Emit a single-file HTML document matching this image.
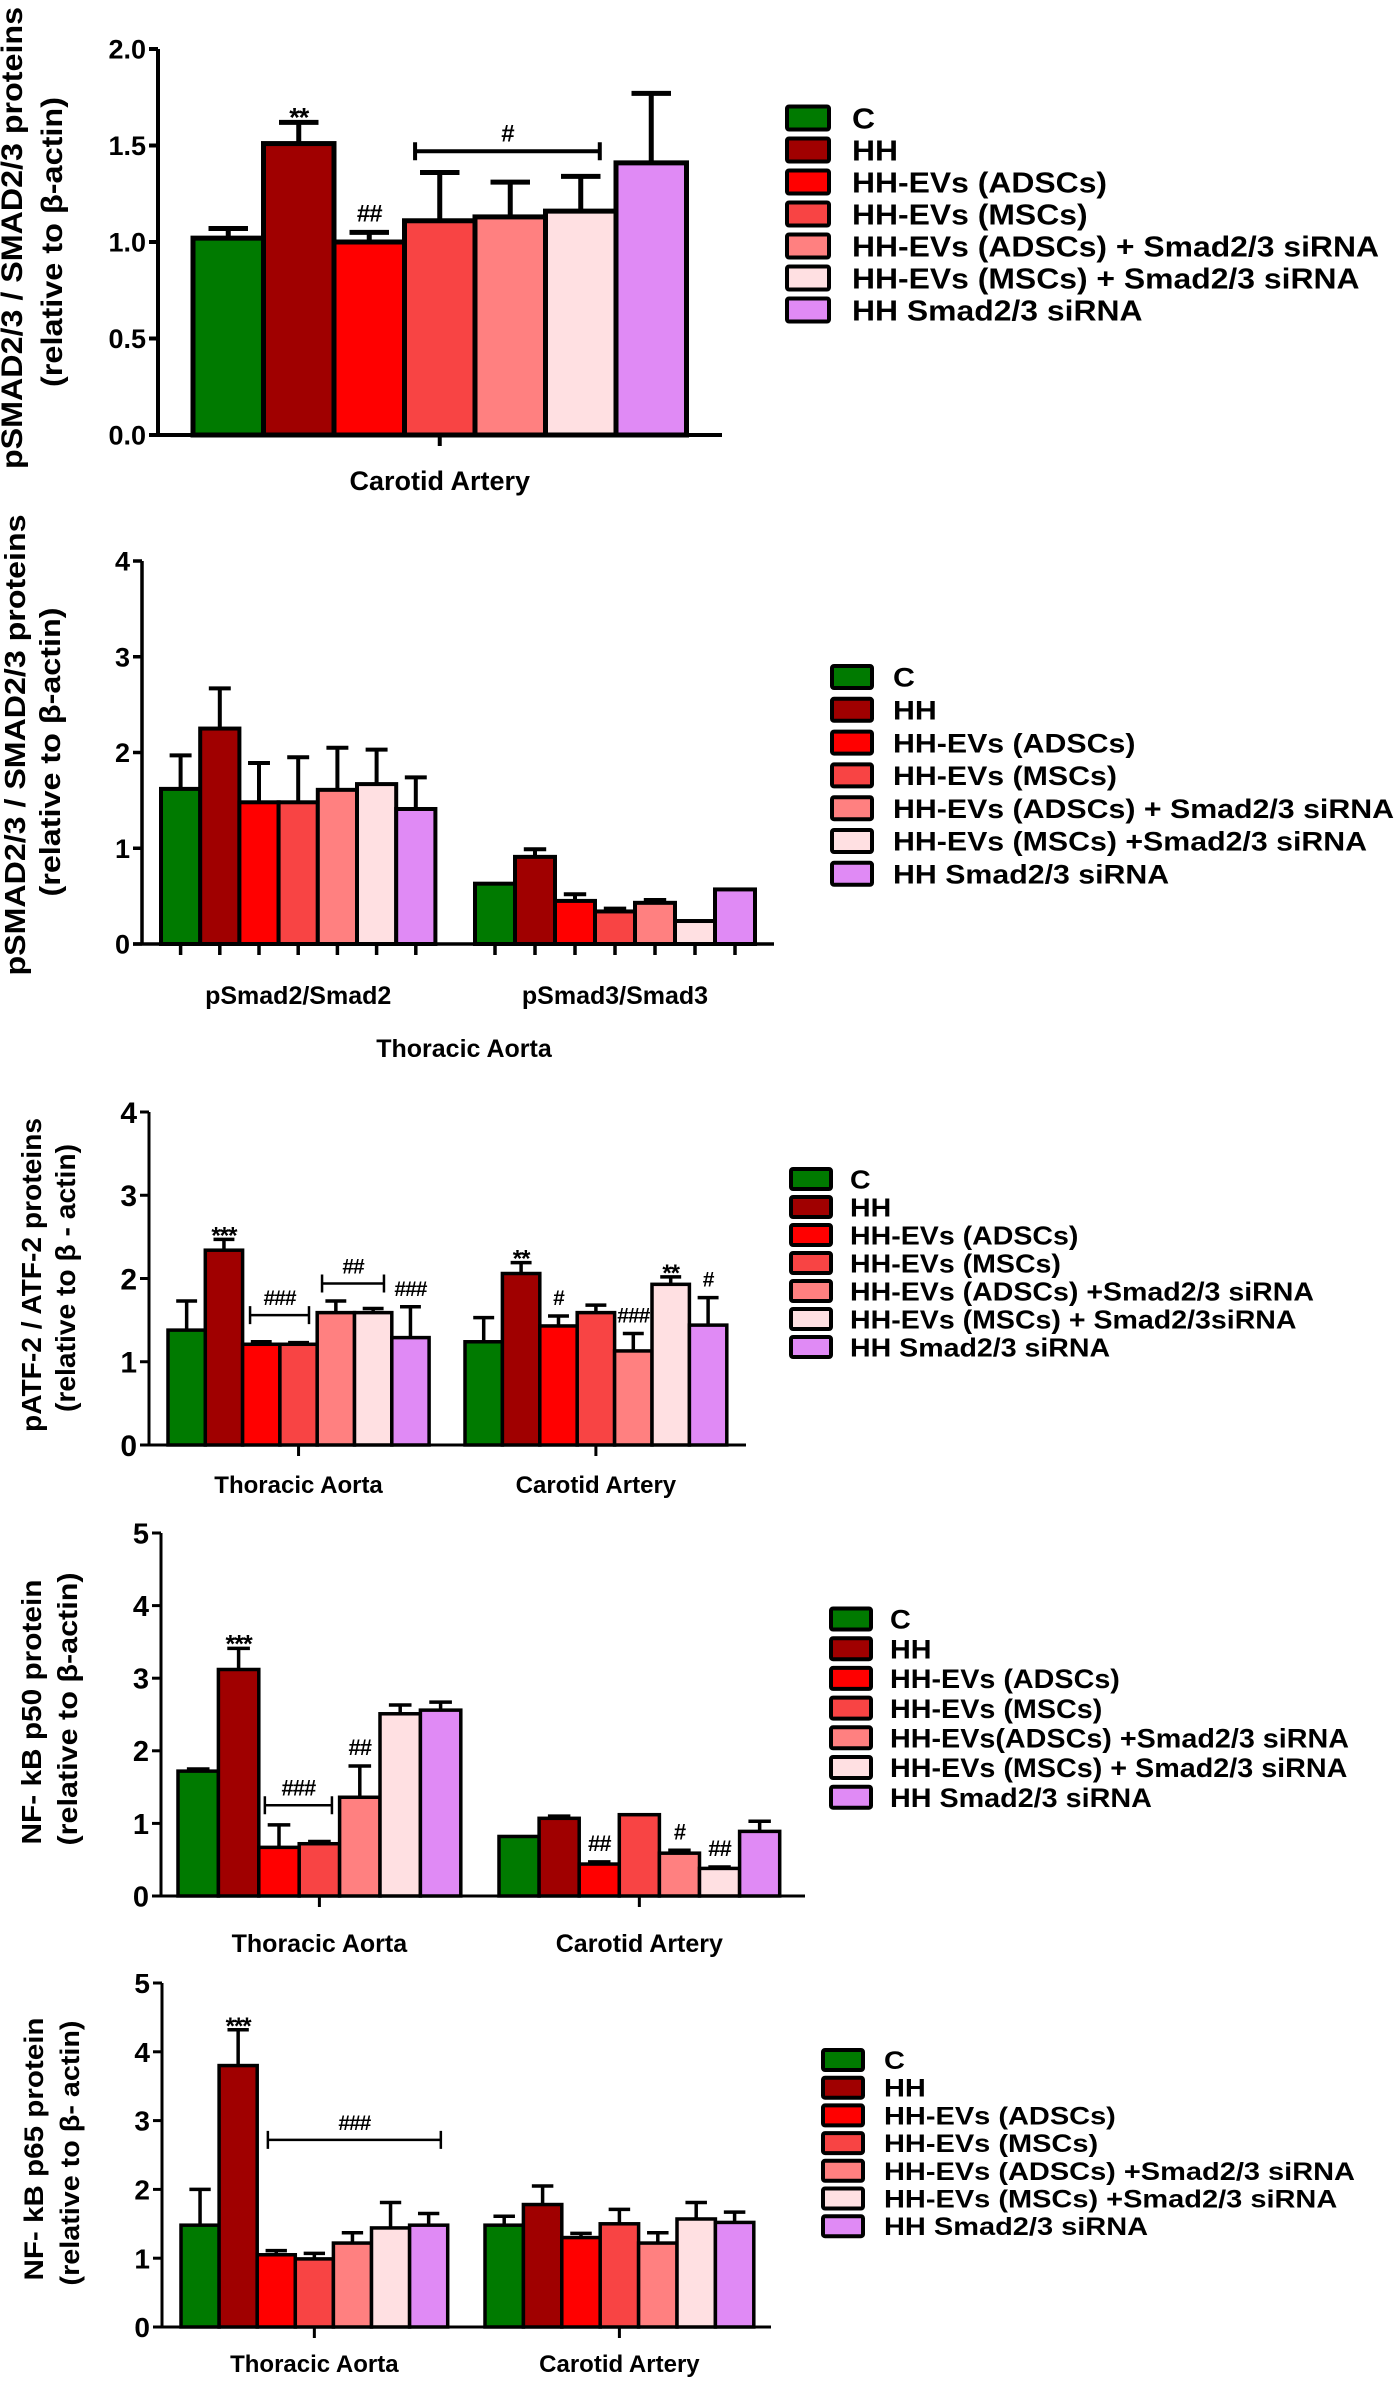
<!DOCTYPE html>
<html><head><meta charset="utf-8"><title>Protein expression bar charts</title>
<style>
html,body{margin:0;padding:0;background:#fff;}
svg{display:block;font-family:"Liberation Sans",Arial,sans-serif;font-weight:bold;}
</style></head>
<body>
<svg id="chart" xmlns="http://www.w3.org/2000/svg" width="1400" height="2381" viewBox="0 0 1400 2381"></svg>
<script>
// ---------- data ----------
const colors = ["#007a00","#a00000","#ff0000","#f84444","#ff8080","#ffe0e2","#e08af5"];
const legend1 = ["C","HH","HH-EVs (ADSCs)","HH-EVs (MSCs)","HH-EVs (ADSCs) + Smad2/3 siRNA","HH-EVs (MSCs) + Smad2/3 siRNA","HH Smad2/3 siRNA"];
const legend2 = ["C","HH","HH-EVs (ADSCs)","HH-EVs (MSCs)","HH-EVs (ADSCs) + Smad2/3 siRNA","HH-EVs (MSCs) +Smad2/3 siRNA","HH Smad2/3 siRNA"];
const legend3 = ["C","HH","HH-EVs (ADSCs)","HH-EVs (MSCs)","HH-EVs (ADSCs) +Smad2/3 siRNA","HH-EVs (MSCs) + Smad2/3siRNA","HH Smad2/3 siRNA"];
const legend4 = ["C","HH","HH-EVs (ADSCs)","HH-EVs (MSCs)","HH-EVs(ADSCs) +Smad2/3 siRNA","HH-EVs (MSCs) + Smad2/3 siRNA","HH Smad2/3 siRNA"];
const legend5 = ["C","HH","HH-EVs (ADSCs)","HH-EVs (MSCs)","HH-EVs (ADSCs) +Smad2/3 siRNA","HH-EVs (MSCs) +Smad2/3 siRNA","HH Smad2/3 siRNA"];

const p1Ticks = ["0.0","0.5","1.0","1.5","2.0"];
const p1Categories = ["Carotid Artery"];
const p1Values = [[1.02,1.51,1.00,1.11,1.13,1.16,1.41]];
const p1Upper  = [[1.07,1.62,1.05,1.36,1.31,1.34,1.77]];

const p2Ticks = ["0","1","2","3","4"];
const p2Categories = ["pSmad2/Smad2","pSmad3/Smad3"];
const p2Values = [[1.62,2.25,1.48,1.48,1.61,1.67,1.41],[0.63,0.91,0.45,0.34,0.43,0.24,0.57]];
const p2Upper  = [[1.97,2.67,1.89,1.95,2.05,2.03,1.74],[0.63,0.99,0.52,0.37,0.46,0.24,0.57]];

const p3Ticks = ["0","1","2","3","4"];
const p3Categories = ["Thoracic Aorta","Carotid Artery"];
const p3Values = [[1.38,2.34,1.21,1.21,1.59,1.59,1.29],[1.24,2.06,1.43,1.59,1.13,1.93,1.44]];
const p3Upper  = [[1.73,2.47,1.24,1.23,1.73,1.64,1.66],[1.53,2.19,1.55,1.68,1.34,2.02,1.77]];

const p4Ticks = ["0","1","2","3","4","5"];
const p4Categories = ["Thoracic Aorta","Carotid Artery"];
const p4Values = [[1.72,3.12,0.67,0.72,1.36,2.51,2.56],[0.82,1.07,0.44,1.12,0.59,0.38,0.89]];
const p4Upper  = [[1.75,3.41,0.98,0.75,1.79,2.63,2.67],[0.82,1.10,0.47,1.12,0.63,0.40,1.03]];

const p5Ticks = ["0","1","2","3","4","5"];
const p5Categories = ["Thoracic Aorta","Carotid Artery"];
const p5Values = [[1.48,3.80,1.05,0.99,1.22,1.44,1.48],[1.48,1.78,1.30,1.50,1.22,1.57,1.52]];
const p5Upper  = [[2.00,4.32,1.11,1.07,1.37,1.81,1.65],[1.61,2.05,1.36,1.71,1.37,1.81,1.67]];

// annotations: [group, bar, text]; brackets: [group, fromSlot, toSlot, value, text]
const p1Marks = [[0,1,"**"],[0,2,"##"]];
const p1Brackets = [[0,3.15,5.77,1.47,"#"]];
const p2Marks = [];
const p2Brackets = [];
const p3Marks = [[0,1,"***"],[0,6,"###"],[1,1,"**"],[1,2,"#"],[1,4,"###"],[1,5,"**"],[1,6,"#"]];
const p3Brackets = [[0,2.2,3.78,1.56,"###"],[0,4.13,5.79,1.94,"##"]];
const p4Marks = [[0,1,"***"],[0,4,"##"],[1,2,"##"],[1,4,"#"],[1,5,"##"]];
const p4Brackets = [[0,2.15,3.81,1.25,"###"]];
const p5Marks = [[0,1,"***"]];
const p5Brackets = [[0,2.28,6.82,2.72,"###"]];

// ---------- drawing ----------
const NS = "http://www.w3.org/2000/svg";
const svg = document.getElementById('chart');
function mk(tag, parent){ const e=document.createElementNS(NS,tag); parent.appendChild(e); return e; }
function set(e, a){ for(const k in a) e.setAttribute(k,a[k]); return e; }

function drawPanel(cfg){
  const g = mk('g', svg);
  
  
  const ymax = cfg.ticks.length ? parseFloat(cfg.ticks[cfg.ticks.length-1]) : 1;
  const yS = v => cfg.y0 - v*(cfg.y0-cfg.yTop)/ymax;
  const ya = mk('line', g);
  set(ya,{x1:cfg.ax,y1:cfg.yTop,x2:cfg.ax,y2:cfg.y0,stroke:'#000','stroke-width':cfg.aw});
  
  
  cfg.ticks.forEach(t=>{
    const y=yS(parseFloat(t));
    const tl=mk('line',g);
    set(tl,{x1:cfg.ax-9,y1:y,x2:cfg.ax,y2:y,stroke:'#000','stroke-width':cfg.aw});
    
    
    const tx=mk('text',g);
    set(tx,{x:cfg.ax-12,y:y+cfg.tfs*0.36,'text-anchor':'end','font-size':cfg.tfs});
    tx.textContent=t;
    
    
  });
  const xa=mk('line',g);
  set(xa,{x1:cfg.ax-9,y1:cfg.y0,x2:cfg.xEnd,y2:cfg.y0,stroke:'#000','stroke-width':cfg.aw});
  
  
  cfg.values.forEach((vals,gi)=>{
    const x0=cfg.groups[gi][0], w=cfg.groups[gi][1];
    vals.forEach((v,i)=>{
      const cx=x0+w*(i+0.5);
      const up=cfg.upper[gi][i];
      if(up>v+0.001){
        const el=mk('line',g);
        set(el,{x1:cx,y1:yS(v),x2:cx,y2:yS(up),stroke:'#000','stroke-width':cfg.sw});
        
        
        const cap=mk('line',g);
        set(cap,{x1:cx-w*0.28,y1:yS(up),x2:cx+w*0.28,y2:yS(up),stroke:'#000','stroke-width':cfg.sw});
        
        
      }
      const r=mk('rect',g);
      set(r,{x:x0+w*i,y:yS(v),width:w,height:cfg.y0-yS(v),fill:colors[i],stroke:'#000','stroke-width':cfg.sw});
      
      
      if(cfg.perBarTicks){
        const tk=mk('line',g);
        set(tk,{x1:cx,y1:cfg.y0,x2:cx,y2:cfg.y0+11,stroke:'#000','stroke-width':cfg.aw});
        
        
      }
    });
    const gc=x0+w*vals.length/2;
    if(!cfg.perBarTicks){
      const tk=mk('line',g);
      set(tk,{x1:gc,y1:cfg.y0,x2:gc,y2:cfg.y0+11,stroke:'#000','stroke-width':cfg.aw});
      
      
    }
    const cl=mk('text',g);
    set(cl,{x:gc+(cfg.catDx||0),y:cfg.catY,'text-anchor':'middle','font-size':cfg.cfs});
    cl.textContent=cfg.categories[gi];
    
    
  });
  cfg.marks.forEach(m=>{
    const x0=cfg.groups[m[0]][0], w=cfg.groups[m[0]][1];
    const cx=x0+w*(m[1]+0.5);
    const ey=yS(cfg.upper[m[0]][m[1]]);
    const star=m[2].indexOf('*')>=0;
    const t=mk('text',g);
    set(t,{x:cx,y:star?ey+4:ey-11,'text-anchor':'middle','font-size':star?cfg.afs+3:cfg.afs,'letter-spacing':'-1'});
    t.textContent=m[2];
    
    
  });
  cfg.brackets.forEach(b=>{
    const x0=cfg.groups[b[0]][0], w=cfg.groups[b[0]][1];
    const xa1=x0+w*b[1], xa2=x0+w*b[2], y=yS(b[3]);
    const p=mk('path',g);
    set(p,{d:`M${xa1},${y-9}V${y+9}M${xa1},${y}H${xa2}M${xa2},${y-9}V${y+9}`,stroke:'#000','stroke-width':cfg.bw,fill:'none'});
    
    
    const t=mk('text',g);
    set(t,{x:(xa1+xa2)/2,y:y-10,'text-anchor':'middle','font-size':cfg.afs,'letter-spacing':'-1'});
    t.textContent=b[4];
    
    
  });
  cfg.title.forEach((tt,k)=>{
    const t=mk('text',g);
    const x=tt[1], y=tt[2];
    set(t,{x:x,y:y,transform:`rotate(-90 ${x} ${y})`,'text-anchor':'middle','font-size':tt[3],textLength:tt[4],lengthAdjust:'spacingAndGlyphs'});
    t.textContent=tt[0];
    
    
  });
  if(cfg.xTitle){
    const t=mk('text',g);
    set(t,{x:cfg.xTitle[1],y:cfg.xTitle[2],'text-anchor':'middle','font-size':cfg.cfs});
    t.textContent=cfg.xTitle[0];
    
    
  }
  const L=cfg.legend;
  const lg=mk('g',svg);
  
  
  const texts=[];
  L.labels.forEach((lab,i)=>{
    const cy=L.y+i*L.dy;
    const r=mk('rect',lg);
    set(r,{x:L.bx,y:cy-L.bh/2,width:L.bw,height:L.bh,rx:2,fill:colors[i],stroke:'#000','stroke-width':4});
    
    
    const t=mk('text',lg);
    set(t,{x:L.tx,y:cy+L.fs*0.36,'font-size':L.fs});
    t.textContent=lab;
    
    
    texts.push(t);
  });
  let maxW=0;
  texts.forEach(t=>{const w=t.getComputedTextLength(); if(w>maxW){maxW=w;}});
  const f=L.tw/maxW;
  texts.forEach(t=>{const w=t.getComputedTextLength(); set(t,{textLength:w*f,lengthAdjust:'spacingAndGlyphs'});});
}

drawPanel({name:'panel-psmad-carotid',ax:158,y0:435,yTop:49,ticks:p1Ticks,tfs:27,aw:4,sw:5,bw:4,
  groups:[[193,70.5]],values:p1Values,upper:p1Upper,categories:p1Categories,xEnd:722,
  catY:490,cfs:27,afs:24,marks:p1Marks,brackets:p1Brackets,
  title:[["pSMAD2/3 / SMAD2/3 proteins",22,238,30,462],["(relative to β-actin)",62,242,30,290]],
  legend:{labels:legend1,bx:787,bw:42,bh:23,tx:852,y:118,dy:32,fs:29,tw:527}});

drawPanel({name:'panel-psmad-thoracic',ax:142,y0:944,yTop:561,ticks:p2Ticks,tfs:27,aw:3.5,sw:4,bw:3,
  groups:[[161,39.2],[475,40]],values:p2Values,upper:p2Upper,categories:p2Categories,xEnd:774,perBarTicks:true,
  catY:1004,cfs:25,afs:22,marks:p2Marks,brackets:p2Brackets,xTitle:["Thoracic Aorta",464,1057],
  title:[["pSMAD2/3 / SMAD2/3 proteins",25,745,29,461],["(relative to β-actin)",60,752,29,289]],
  legend:{labels:legend2,bx:832,bw:40,bh:22,tx:893,y:677,dy:32.8,fs:27,tw:501}});

drawPanel({name:'panel-patf2',ax:149,y0:1445,yTop:1112,ticks:p3Ticks,tfs:30,aw:3,sw:3.5,bw:2.5,
  groups:[[168,37.3],[465,37.4]],values:p3Values,upper:p3Upper,categories:p3Categories,xEnd:746,
  catY:1493,cfs:24,afs:21,marks:p3Marks,brackets:p3Brackets,
  title:[["pATF-2 / ATF-2 proteins",41,1275,28,314],["(relative to β - actin)",75,1278,28,268]],
  legend:{labels:legend3,bx:791,bw:40,bh:20,tx:850,y:1179,dy:28,fs:26,tw:464}});

drawPanel({name:'panel-nfkb-p50',ax:161,y0:1896,yTop:1533,ticks:p4Ticks,tfs:29,aw:3,sw:3.5,bw:2.5,
  groups:[[178,40.4],[499,40.1]],values:p4Values,upper:p4Upper,categories:p4Categories,xEnd:805,
  catY:1952,cfs:25,afs:22,marks:p4Marks,brackets:p4Brackets,
  title:[["NF- kB p50 protein",41,1712,28,265],["(relative to β-actin)",77,1709,28,273]],
  legend:{labels:legend4,bx:831,bw:40,bh:21,tx:890,y:1619,dy:29.7,fs:27,tw:459}});

drawPanel({name:'panel-nfkb-p65',ax:162,y0:2327,yTop:1983,ticks:p5Ticks,tfs:28,aw:3,sw:3.5,bw:2.5,
  groups:[[181,38.1],[485,38.4]],values:p5Values,upper:p5Upper,categories:p5Categories,xEnd:771,
  catY:2372,cfs:24,afs:21,marks:p5Marks,brackets:p5Brackets,
  title:[["NF- kB p65 protein",43,2149,27,263],["(relative to β- actin)",79,2153,27,265]],
  legend:{labels:legend5,bx:823,bw:40,bh:20,tx:884,y:2060,dy:27.7,fs:25,tw:471}});
</script>
</body></html>
